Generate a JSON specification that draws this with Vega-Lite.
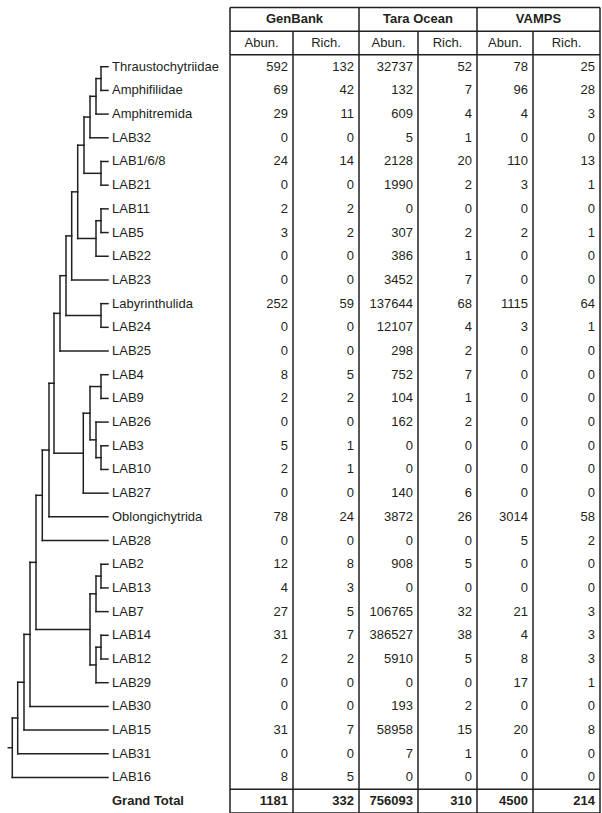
{
  "$schema": "https://vega.github.io/schema/vega-lite/v6.json",
  "padding": 0,
  "spacing": 0,
  "bounds": "flush",
  "config": {
    "view": {"stroke": null},
    "concat": {"spacing": 0},
    "font": "Liberation Sans",
    "text": {"fontSize": 13, "color": "#231f20", "baseline": "middle"},
    "rule": {"color": "#231f20", "strokeWidth": 1.5}
  },
  "datasets": {
    "rows": [
      {"taxon": "Thraustochytriidae", "i": 0, "gb_a": 592, "gb_r": 132, "to_a": 32737, "to_r": 52, "va_a": 78, "va_r": 25},
      {"taxon": "Amphifilidae", "i": 1, "gb_a": 69, "gb_r": 42, "to_a": 132, "to_r": 7, "va_a": 96, "va_r": 28},
      {"taxon": "Amphitremida", "i": 2, "gb_a": 29, "gb_r": 11, "to_a": 609, "to_r": 4, "va_a": 4, "va_r": 3},
      {"taxon": "LAB32", "i": 3, "gb_a": 0, "gb_r": 0, "to_a": 5, "to_r": 1, "va_a": 0, "va_r": 0},
      {"taxon": "LAB1/6/8", "i": 4, "gb_a": 24, "gb_r": 14, "to_a": 2128, "to_r": 20, "va_a": 110, "va_r": 13},
      {"taxon": "LAB21", "i": 5, "gb_a": 0, "gb_r": 0, "to_a": 1990, "to_r": 2, "va_a": 3, "va_r": 1},
      {"taxon": "LAB11", "i": 6, "gb_a": 2, "gb_r": 2, "to_a": 0, "to_r": 0, "va_a": 0, "va_r": 0},
      {"taxon": "LAB5", "i": 7, "gb_a": 3, "gb_r": 2, "to_a": 307, "to_r": 2, "va_a": 2, "va_r": 1},
      {"taxon": "LAB22", "i": 8, "gb_a": 0, "gb_r": 0, "to_a": 386, "to_r": 1, "va_a": 0, "va_r": 0},
      {"taxon": "LAB23", "i": 9, "gb_a": 0, "gb_r": 0, "to_a": 3452, "to_r": 7, "va_a": 0, "va_r": 0},
      {"taxon": "Labyrinthulida", "i": 10, "gb_a": 252, "gb_r": 59, "to_a": 137644, "to_r": 68, "va_a": 1115, "va_r": 64},
      {"taxon": "LAB24", "i": 11, "gb_a": 0, "gb_r": 0, "to_a": 12107, "to_r": 4, "va_a": 3, "va_r": 1},
      {"taxon": "LAB25", "i": 12, "gb_a": 0, "gb_r": 0, "to_a": 298, "to_r": 2, "va_a": 0, "va_r": 0},
      {"taxon": "LAB4", "i": 13, "gb_a": 8, "gb_r": 5, "to_a": 752, "to_r": 7, "va_a": 0, "va_r": 0},
      {"taxon": "LAB9", "i": 14, "gb_a": 2, "gb_r": 2, "to_a": 104, "to_r": 1, "va_a": 0, "va_r": 0},
      {"taxon": "LAB26", "i": 15, "gb_a": 0, "gb_r": 0, "to_a": 162, "to_r": 2, "va_a": 0, "va_r": 0},
      {"taxon": "LAB3", "i": 16, "gb_a": 5, "gb_r": 1, "to_a": 0, "to_r": 0, "va_a": 0, "va_r": 0},
      {"taxon": "LAB10", "i": 17, "gb_a": 2, "gb_r": 1, "to_a": 0, "to_r": 0, "va_a": 0, "va_r": 0},
      {"taxon": "LAB27", "i": 18, "gb_a": 0, "gb_r": 0, "to_a": 140, "to_r": 6, "va_a": 0, "va_r": 0},
      {"taxon": "Oblongichytrida", "i": 19, "gb_a": 78, "gb_r": 24, "to_a": 3872, "to_r": 26, "va_a": 3014, "va_r": 58},
      {"taxon": "LAB28", "i": 20, "gb_a": 0, "gb_r": 0, "to_a": 0, "to_r": 0, "va_a": 5, "va_r": 2},
      {"taxon": "LAB2", "i": 21, "gb_a": 12, "gb_r": 8, "to_a": 908, "to_r": 5, "va_a": 0, "va_r": 0},
      {"taxon": "LAB13", "i": 22, "gb_a": 4, "gb_r": 3, "to_a": 0, "to_r": 0, "va_a": 0, "va_r": 0},
      {"taxon": "LAB7", "i": 23, "gb_a": 27, "gb_r": 5, "to_a": 106765, "to_r": 32, "va_a": 21, "va_r": 3},
      {"taxon": "LAB14", "i": 24, "gb_a": 31, "gb_r": 7, "to_a": 386527, "to_r": 38, "va_a": 4, "va_r": 3},
      {"taxon": "LAB12", "i": 25, "gb_a": 2, "gb_r": 2, "to_a": 5910, "to_r": 5, "va_a": 8, "va_r": 3},
      {"taxon": "LAB29", "i": 26, "gb_a": 0, "gb_r": 0, "to_a": 0, "to_r": 0, "va_a": 17, "va_r": 1},
      {"taxon": "LAB30", "i": 27, "gb_a": 0, "gb_r": 0, "to_a": 193, "to_r": 2, "va_a": 0, "va_r": 0},
      {"taxon": "LAB15", "i": 28, "gb_a": 31, "gb_r": 7, "to_a": 58958, "to_r": 15, "va_a": 20, "va_r": 8},
      {"taxon": "LAB31", "i": 29, "gb_a": 0, "gb_r": 0, "to_a": 7, "to_r": 1, "va_a": 0, "va_r": 0},
      {"taxon": "LAB16", "i": 30, "gb_a": 8, "gb_r": 5, "to_a": 0, "to_r": 0, "va_a": 0, "va_r": 0},
      {"taxon": "Grand Total", "i": 31, "gb_a": 1181, "gb_r": 332, "to_a": 756093, "to_r": 310, "va_a": 4500, "va_r": 214}
    ],
    "hlines": [{"at": -2.5}, {"at": -1.5}, {"at": -0.5}, {"at": 30.5}, {"at": 31.5}],
    "tree": [
      {"x": 101, "x2": 108, "y": 0, "y2": 0}, {"x": 101, "x2": 108, "y": 1, "y2": 1}, {"x": 101, "x2": 101, "y": 0, "y2": 1},
      {"x": 96, "x2": 101, "y": 0.5, "y2": 0.5}, {"x": 96, "x2": 108, "y": 2, "y2": 2}, {"x": 96, "x2": 96, "y": 0.5, "y2": 2},
      {"x": 90, "x2": 96, "y": 1.25, "y2": 1.25}, {"x": 90, "x2": 108, "y": 3, "y2": 3}, {"x": 90, "x2": 90, "y": 1.25, "y2": 3},
      {"x": 101, "x2": 108, "y": 4, "y2": 4}, {"x": 101, "x2": 108, "y": 5, "y2": 5}, {"x": 101, "x2": 101, "y": 4, "y2": 5},
      {"x": 84, "x2": 90, "y": 2.125, "y2": 2.125}, {"x": 84, "x2": 101, "y": 4.5, "y2": 4.5}, {"x": 84, "x2": 84, "y": 2.125, "y2": 4.5},
      {"x": 101, "x2": 108, "y": 6, "y2": 6}, {"x": 101, "x2": 108, "y": 7, "y2": 7}, {"x": 101, "x2": 101, "y": 6, "y2": 7},
      {"x": 96, "x2": 101, "y": 6.5, "y2": 6.5}, {"x": 96, "x2": 108, "y": 8, "y2": 8}, {"x": 96, "x2": 96, "y": 6.5, "y2": 8},
      {"x": 77.7, "x2": 84, "y": 3.3125, "y2": 3.3125}, {"x": 77.7, "x2": 96, "y": 7.25, "y2": 7.25}, {"x": 77.7, "x2": 77.7, "y": 3.3125, "y2": 7.25},
      {"x": 71.7, "x2": 77.7, "y": 5.28125, "y2": 5.28125}, {"x": 71.7, "x2": 108, "y": 9, "y2": 9}, {"x": 71.7, "x2": 71.7, "y": 5.28125, "y2": 9},
      {"x": 101, "x2": 108, "y": 10, "y2": 10}, {"x": 101, "x2": 108, "y": 11, "y2": 11}, {"x": 101, "x2": 101, "y": 10, "y2": 11},
      {"x": 66, "x2": 71.7, "y": 7.140625, "y2": 7.140625}, {"x": 66, "x2": 101, "y": 10.5, "y2": 10.5}, {"x": 66, "x2": 66, "y": 7.140625, "y2": 10.5},
      {"x": 60, "x2": 66, "y": 8.8203, "y2": 8.8203}, {"x": 60, "x2": 108, "y": 12, "y2": 12}, {"x": 60, "x2": 60, "y": 8.8203, "y2": 12},
      {"x": 101, "x2": 108, "y": 13, "y2": 13}, {"x": 101, "x2": 108, "y": 14, "y2": 14}, {"x": 101, "x2": 101, "y": 13, "y2": 14},
      {"x": 101, "x2": 108, "y": 16, "y2": 16}, {"x": 101, "x2": 108, "y": 17, "y2": 17}, {"x": 101, "x2": 101, "y": 16, "y2": 17},
      {"x": 96, "x2": 108, "y": 15, "y2": 15}, {"x": 96, "x2": 101, "y": 16.5, "y2": 16.5}, {"x": 96, "x2": 96, "y": 15, "y2": 16.5},
      {"x": 90, "x2": 101, "y": 13.5, "y2": 13.5}, {"x": 90, "x2": 96, "y": 15.75, "y2": 15.75}, {"x": 90, "x2": 90, "y": 13.5, "y2": 15.75},
      {"x": 83.3, "x2": 90, "y": 14.625, "y2": 14.625}, {"x": 83.3, "x2": 108, "y": 18, "y2": 18}, {"x": 83.3, "x2": 83.3, "y": 14.625, "y2": 18},
      {"x": 54, "x2": 60, "y": 10.41016, "y2": 10.41016}, {"x": 54, "x2": 83.3, "y": 16.3125, "y2": 16.3125}, {"x": 54, "x2": 54, "y": 10.41016, "y2": 16.3125},
      {"x": 49, "x2": 54, "y": 13.36133, "y2": 13.36133}, {"x": 49, "x2": 108, "y": 19, "y2": 19}, {"x": 49, "x2": 49, "y": 13.36133, "y2": 19},
      {"x": 42.3, "x2": 49, "y": 16.18066, "y2": 16.18066}, {"x": 42.3, "x2": 108, "y": 20, "y2": 20}, {"x": 42.3, "x2": 42.3, "y": 16.18066, "y2": 20},
      {"x": 101, "x2": 108, "y": 21, "y2": 21}, {"x": 101, "x2": 108, "y": 22, "y2": 22}, {"x": 101, "x2": 101, "y": 21, "y2": 22},
      {"x": 96, "x2": 101, "y": 21.5, "y2": 21.5}, {"x": 96, "x2": 108, "y": 23, "y2": 23}, {"x": 96, "x2": 96, "y": 21.5, "y2": 23},
      {"x": 101, "x2": 108, "y": 24, "y2": 24}, {"x": 101, "x2": 108, "y": 25, "y2": 25}, {"x": 101, "x2": 101, "y": 24, "y2": 25},
      {"x": 96, "x2": 101, "y": 24.5, "y2": 24.5}, {"x": 96, "x2": 108, "y": 26, "y2": 26}, {"x": 96, "x2": 96, "y": 24.5, "y2": 26},
      {"x": 90, "x2": 96, "y": 22.25, "y2": 22.25}, {"x": 90, "x2": 96, "y": 25.25, "y2": 25.25}, {"x": 90, "x2": 90, "y": 22.25, "y2": 25.25},
      {"x": 36, "x2": 42.3, "y": 18.09033, "y2": 18.09033}, {"x": 36, "x2": 90, "y": 23.75, "y2": 23.75}, {"x": 36, "x2": 36, "y": 18.09033, "y2": 23.75},
      {"x": 30, "x2": 36, "y": 20.92017, "y2": 20.92017}, {"x": 30, "x2": 108, "y": 27, "y2": 27}, {"x": 30, "x2": 30, "y": 20.92017, "y2": 27},
      {"x": 24, "x2": 30, "y": 23.96008, "y2": 23.96008}, {"x": 24, "x2": 108, "y": 28, "y2": 28}, {"x": 24, "x2": 24, "y": 23.96008, "y2": 28},
      {"x": 17.7, "x2": 24, "y": 25.98004, "y2": 25.98004}, {"x": 17.7, "x2": 108, "y": 29, "y2": 29}, {"x": 17.7, "x2": 17.7, "y": 25.98004, "y2": 29},
      {"x": 12.3, "x2": 17.7, "y": 27.49002, "y2": 27.49002}, {"x": 12.3, "x2": 108, "y": 30, "y2": 30}, {"x": 12.3, "x2": 12.3, "y": 27.49002, "y2": 30},
      {"x": 8.3, "x2": 12.3, "y": 28.74501, "y2": 28.74501}
    ]
  },
  "hconcat": [
    {
      "width": 230, "height": 813,
      "layer": [
        {
          "data": {"name": "tree"},
          "mark": {"type": "rule", "strokeCap": "square", "strokeWidth": 1.5},
          "encoding": {
            "x": {"field": "x", "type": "quantitative", "scale": {"domain": [0, 230], "nice": false, "zero": false}, "axis": null},
            "x2": {"field": "x2"},
            "y": {"field": "y", "type": "quantitative", "scale": {"domain": [-2.816, 31.5], "reverse": true, "nice": false, "zero": false}, "axis": null},
            "y2": {"field": "y2"}
          }
        },
        {
          "data": {"name": "rows"},
          "transform": [{"filter": "datum.taxon != 'Grand Total'"}],
          "mark": {"type": "text", "align": "left", "dx": 4},
          "encoding": {
            "x": {"datum": 108, "type": "quantitative"},
            "y": {"field": "i", "type": "quantitative"},
            "text": {"field": "taxon"}
          }
        },
        {
          "data": {"name": "rows"},
          "transform": [{"filter": "datum.taxon == 'Grand Total'"}],
          "mark": {"type": "text", "align": "left", "dx": 4, "fontWeight": "bold"},
          "encoding": {
            "x": {"datum": 108, "type": "quantitative"},
            "y": {"field": "i", "type": "quantitative"},
            "text": {"field": "taxon"}
          }
        }
      ]
    },
    {
      "width": 63, "height": 813,
      "layer": [
        {"data": {"name": "rows"}, "transform": [{"filter": "datum.taxon != 'Grand Total'"}], "mark": {"type": "text", "align": "right", "dx": -5},
         "encoding": {"x": {"datum": 1, "type": "quantitative", "scale": {"domain": [0, 1], "nice": false, "zero": false}, "axis": null}, "y": {"field": "i", "type": "quantitative", "scale": {"domain": [-2.816, 31.5], "reverse": true, "nice": false, "zero": false}, "axis": null}, "text": {"field": "gb_a"}}},
        {"data": {"name": "rows"}, "transform": [{"filter": "datum.taxon == 'Grand Total'"}], "mark": {"type": "text", "align": "right", "dx": -5, "fontWeight": "bold"},
         "encoding": {"x": {"datum": 1, "type": "quantitative"}, "y": {"field": "i", "type": "quantitative"}, "text": {"field": "gb_a"}}},
        {"data": {"values": [{"h": "Abun."}]}, "mark": {"type": "text"}, "encoding": {"x": {"datum": 0.5, "type": "quantitative"}, "y": {"datum": -1, "type": "quantitative"}, "text": {"field": "h"}}},
        {"data": {"values": [{"h": "GenBank"}]}, "mark": {"type": "text", "fontWeight": "bold"}, "encoding": {"x": {"datum": 1.024, "type": "quantitative"}, "y": {"datum": -2, "type": "quantitative"}, "text": {"field": "h"}}},
        {"data": {"name": "hlines"}, "mark": {"type": "rule"}, "encoding": {"y": {"field": "at", "type": "quantitative"}}},
        {"data": {"values": [{"h": 0}]}, "mark": {"type": "rule"}, "encoding": {"x": {"datum": 0, "type": "quantitative"}, "y": {"datum": -2.5, "type": "quantitative"}, "y2": {"datum": 31.5}}}
      ]
    },
    {
      "width": 66, "height": 813,
      "layer": [
        {"data": {"name": "rows"}, "transform": [{"filter": "datum.taxon != 'Grand Total'"}], "mark": {"type": "text", "align": "right", "dx": -5},
         "encoding": {"x": {"datum": 1, "type": "quantitative", "scale": {"domain": [0, 1], "nice": false, "zero": false}, "axis": null}, "y": {"field": "i", "type": "quantitative", "scale": {"domain": [-2.816, 31.5], "reverse": true, "nice": false, "zero": false}, "axis": null}, "text": {"field": "gb_r"}}},
        {"data": {"name": "rows"}, "transform": [{"filter": "datum.taxon == 'Grand Total'"}], "mark": {"type": "text", "align": "right", "dx": -5, "fontWeight": "bold"},
         "encoding": {"x": {"datum": 1, "type": "quantitative"}, "y": {"field": "i", "type": "quantitative"}, "text": {"field": "gb_r"}}},
        {"data": {"values": [{"h": "Rich."}]}, "mark": {"type": "text"}, "encoding": {"x": {"datum": 0.5, "type": "quantitative"}, "y": {"datum": -1, "type": "quantitative"}, "text": {"field": "h"}}},
        {"data": {"name": "hlines"}, "mark": {"type": "rule"}, "encoding": {"y": {"field": "at", "type": "quantitative"}}},
        {"data": {"values": [{"h": 0}]}, "mark": {"type": "rule"}, "encoding": {"x": {"datum": 0, "type": "quantitative"}, "y": {"datum": -1.5, "type": "quantitative"}, "y2": {"datum": 31.5}}}
      ]
    },
    {
      "width": 59, "height": 813,
      "layer": [
        {"data": {"name": "rows"}, "transform": [{"filter": "datum.taxon != 'Grand Total'"}], "mark": {"type": "text", "align": "right", "dx": -5},
         "encoding": {"x": {"datum": 1, "type": "quantitative", "scale": {"domain": [0, 1], "nice": false, "zero": false}, "axis": null}, "y": {"field": "i", "type": "quantitative", "scale": {"domain": [-2.816, 31.5], "reverse": true, "nice": false, "zero": false}, "axis": null}, "text": {"field": "to_a"}}},
        {"data": {"name": "rows"}, "transform": [{"filter": "datum.taxon == 'Grand Total'"}], "mark": {"type": "text", "align": "right", "dx": -5, "fontWeight": "bold"},
         "encoding": {"x": {"datum": 1, "type": "quantitative"}, "y": {"field": "i", "type": "quantitative"}, "text": {"field": "to_a"}}},
        {"data": {"values": [{"h": "Abun."}]}, "mark": {"type": "text"}, "encoding": {"x": {"datum": 0.5, "type": "quantitative"}, "y": {"datum": -1, "type": "quantitative"}, "text": {"field": "h"}}},
        {"data": {"values": [{"h": "Tara Ocean"}]}, "mark": {"type": "text", "fontWeight": "bold"}, "encoding": {"x": {"datum": 1, "type": "quantitative"}, "y": {"datum": -2, "type": "quantitative"}, "text": {"field": "h"}}},
        {"data": {"name": "hlines"}, "mark": {"type": "rule"}, "encoding": {"y": {"field": "at", "type": "quantitative"}}},
        {"data": {"values": [{"h": 0}]}, "mark": {"type": "rule"}, "encoding": {"x": {"datum": 0, "type": "quantitative"}, "y": {"datum": -2.5, "type": "quantitative"}, "y2": {"datum": 31.5}}}
      ]
    },
    {
      "width": 59, "height": 813,
      "layer": [
        {"data": {"name": "rows"}, "transform": [{"filter": "datum.taxon != 'Grand Total'"}], "mark": {"type": "text", "align": "right", "dx": -5},
         "encoding": {"x": {"datum": 1, "type": "quantitative", "scale": {"domain": [0, 1], "nice": false, "zero": false}, "axis": null}, "y": {"field": "i", "type": "quantitative", "scale": {"domain": [-2.816, 31.5], "reverse": true, "nice": false, "zero": false}, "axis": null}, "text": {"field": "to_r"}}},
        {"data": {"name": "rows"}, "transform": [{"filter": "datum.taxon == 'Grand Total'"}], "mark": {"type": "text", "align": "right", "dx": -5, "fontWeight": "bold"},
         "encoding": {"x": {"datum": 1, "type": "quantitative"}, "y": {"field": "i", "type": "quantitative"}, "text": {"field": "to_r"}}},
        {"data": {"values": [{"h": "Rich."}]}, "mark": {"type": "text"}, "encoding": {"x": {"datum": 0.5, "type": "quantitative"}, "y": {"datum": -1, "type": "quantitative"}, "text": {"field": "h"}}},
        {"data": {"name": "hlines"}, "mark": {"type": "rule"}, "encoding": {"y": {"field": "at", "type": "quantitative"}}},
        {"data": {"values": [{"h": 0}]}, "mark": {"type": "rule"}, "encoding": {"x": {"datum": 0, "type": "quantitative"}, "y": {"datum": -1.5, "type": "quantitative"}, "y2": {"datum": 31.5}}}
      ]
    },
    {
      "width": 56, "height": 813,
      "layer": [
        {"data": {"name": "rows"}, "transform": [{"filter": "datum.taxon != 'Grand Total'"}], "mark": {"type": "text", "align": "right", "dx": -5},
         "encoding": {"x": {"datum": 1, "type": "quantitative", "scale": {"domain": [0, 1], "nice": false, "zero": false}, "axis": null}, "y": {"field": "i", "type": "quantitative", "scale": {"domain": [-2.816, 31.5], "reverse": true, "nice": false, "zero": false}, "axis": null}, "text": {"field": "va_a"}}},
        {"data": {"name": "rows"}, "transform": [{"filter": "datum.taxon == 'Grand Total'"}], "mark": {"type": "text", "align": "right", "dx": -5, "fontWeight": "bold"},
         "encoding": {"x": {"datum": 1, "type": "quantitative"}, "y": {"field": "i", "type": "quantitative"}, "text": {"field": "va_a"}}},
        {"data": {"values": [{"h": "Abun."}]}, "mark": {"type": "text"}, "encoding": {"x": {"datum": 0.5, "type": "quantitative"}, "y": {"datum": -1, "type": "quantitative"}, "text": {"field": "h"}}},
        {"data": {"values": [{"h": "VAMPS"}]}, "mark": {"type": "text", "fontWeight": "bold"}, "encoding": {"x": {"datum": 1.098, "type": "quantitative"}, "y": {"datum": -2, "type": "quantitative"}, "text": {"field": "h"}}},
        {"data": {"name": "hlines"}, "mark": {"type": "rule"}, "encoding": {"y": {"field": "at", "type": "quantitative"}}},
        {"data": {"values": [{"h": 0}]}, "mark": {"type": "rule"}, "encoding": {"x": {"datum": 0, "type": "quantitative"}, "y": {"datum": -2.5, "type": "quantitative"}, "y2": {"datum": 31.5}}}
      ]
    },
    {
      "width": 67, "height": 813,
      "layer": [
        {"data": {"name": "rows"}, "transform": [{"filter": "datum.taxon != 'Grand Total'"}], "mark": {"type": "text", "align": "right", "dx": -5},
         "encoding": {"x": {"datum": 1, "type": "quantitative", "scale": {"domain": [0, 1], "nice": false, "zero": false}, "axis": null}, "y": {"field": "i", "type": "quantitative", "scale": {"domain": [-2.816, 31.5], "reverse": true, "nice": false, "zero": false}, "axis": null}, "text": {"field": "va_r"}}},
        {"data": {"name": "rows"}, "transform": [{"filter": "datum.taxon == 'Grand Total'"}], "mark": {"type": "text", "align": "right", "dx": -5, "fontWeight": "bold"},
         "encoding": {"x": {"datum": 1, "type": "quantitative"}, "y": {"field": "i", "type": "quantitative"}, "text": {"field": "va_r"}}},
        {"data": {"values": [{"h": "Rich."}]}, "mark": {"type": "text"}, "encoding": {"x": {"datum": 0.5, "type": "quantitative"}, "y": {"datum": -1, "type": "quantitative"}, "text": {"field": "h"}}},
        {"data": {"name": "hlines"}, "mark": {"type": "rule"}, "encoding": {"y": {"field": "at", "type": "quantitative"}}},
        {"data": {"values": [{"h": 0}]}, "mark": {"type": "rule"}, "encoding": {"x": {"datum": 0, "type": "quantitative"}, "y": {"datum": -1.5, "type": "quantitative"}, "y2": {"datum": 31.5}}},
        {"data": {"values": [{"h": 1}]}, "mark": {"type": "rule"}, "encoding": {"x": {"datum": 1, "type": "quantitative"}, "y": {"datum": -2.5, "type": "quantitative"}, "y2": {"datum": 31.5}}}
      ]
    }
  ]
}
